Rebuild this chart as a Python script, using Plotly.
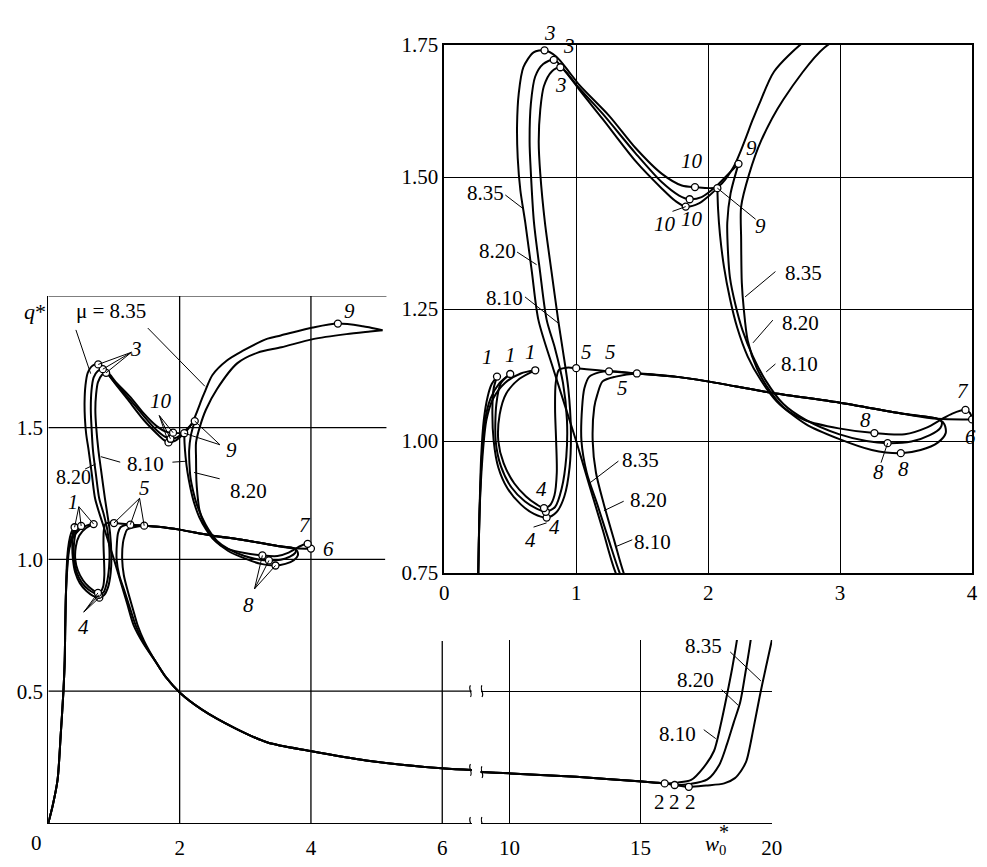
import plotly.graph_objects as go

FONT = "Liberation Serif, Times New Roman, serif"
FS = 21
INK = "black"
W, H = 987, 867

# ---------------- shared pieces of the q*(w0*) curves ----------------
rise_x = [0.0, 0.065, 0.14, 0.19, 0.23, 0.25, 0.258, 0.267]
rise_y = [0.0, 0.064, 0.162, 0.34, 0.50, 0.62, 0.75, 0.86]

shelf_x = [3.74, 3.49, 2.99, 2.49, 1.995, 1.75, 1.46]
shelf_y = [1.042, 1.051, 1.073, 1.091, 1.113, 1.122, 1.128]

tail_x = [1.64, 1.80, 2.00, 2.34, 2.84, 3.34, 3.99, 4.84, 5.99, 6.45, 8.90, 10.04, 12.55, 15.06, 15.92]
tail_y = [0.61, 0.55, 0.495, 0.43, 0.36, 0.305, 0.273, 0.237, 0.207, 0.201, 0.193, 0.188, 0.175, 0.157, 0.150]

# ---------------- mu = 8.10 ----------------
mu810_a_x = [0.28, 0.30, 0.33, 0.36, 0.40]
mu810_a_y = [0.97, 1.04, 1.085, 1.108, 1.122]
mu810_b_x = [0.40, 0.375, 0.365, 0.375, 0.41, 0.48, 0.58, 0.68, 0.776, 0.85, 0.91, 0.95, 0.96, 0.94, 0.90,
             0.863, 0.813, 0.763, 0.728, 0.716, 0.728, 0.755, 0.815, 0.88, 0.95, 1.025, 1.20, 1.45, 1.65,
             1.75, 1.83, 1.93, 2.00, 2.07]
mu810_b_y = [1.122, 1.10, 1.06, 1.0, 0.95, 0.91, 0.88, 0.862, 0.855, 0.865, 0.895, 0.95, 1.02, 1.10, 1.17,
             1.23, 1.321, 1.414, 1.506, 1.567, 1.628, 1.672, 1.700, 1.708, 1.69, 1.665, 1.61, 1.53, 1.478,
             1.455, 1.444, 1.45, 1.463, 1.479]
mu810_c_x = [2.07, 2.075, 2.09, 2.12, 2.165, 2.22, 2.30, 2.40, 2.52, 2.74, 2.99, 3.24, 3.46, 3.61, 3.74, 3.80, 3.79]
mu810_c_y = [1.479, 1.44, 1.39, 1.33, 1.27, 1.215, 1.16, 1.115, 1.075, 1.032, 1.004, 0.983, 0.977, 0.983, 0.997, 1.015, 1.032]
mu810_d_x = [1.30, 1.20, 1.16, 1.137, 1.125, 1.15, 1.21, 1.29, 1.36, 1.46]
mu810_d_y = [1.122, 1.113, 1.088, 1.064, 1.0, 0.94, 0.88, 0.81, 0.75, 0.69]
mu810_e_x = [16.4, 16.93, 17.4, 17.8, 18.05, 18.29, 18.5, 18.67, 18.8]
mu810_e_y = [0.153, 0.163, 0.21, 0.273, 0.37, 0.483, 0.59, 0.69, 0.78]

# ---------------- mu = 8.20 ----------------
mu820_a_x = [0.285, 0.31, 0.35, 0.42, 0.50]
mu820_a_y = [0.97, 1.04, 1.08, 1.11, 1.127]
mu820_b_x = [0.50, 0.43, 0.395, 0.39, 0.43, 0.51, 0.61, 0.70, 0.77, 0.84, 0.89, 0.925, 0.93, 0.90, 0.84,
             0.776, 0.726, 0.68, 0.657, 0.647, 0.657, 0.689, 0.75, 0.83, 0.92, 1.0, 1.20, 1.45, 1.65,
             1.78, 1.86, 1.95, 2.05, 2.15, 2.23]
mu820_b_y = [1.127, 1.11, 1.07, 1.0, 0.952, 0.912, 0.886, 0.872, 0.866, 0.875, 0.91, 0.97, 1.04, 1.11, 1.175,
             1.23, 1.321, 1.414, 1.506, 1.567, 1.64, 1.69, 1.714, 1.722, 1.70, 1.675, 1.62, 1.545, 1.49,
             1.465, 1.458, 1.462, 1.48, 1.505, 1.525]
mu820_c_x = [2.23, 2.17, 2.145, 2.15, 2.165, 2.205, 2.26, 2.34, 2.44, 2.57, 2.74, 2.99, 3.20, 3.36, 3.54, 3.68, 3.76, 3.77]
mu820_c_y = [1.525, 1.469, 1.414, 1.36, 1.31, 1.26, 1.21, 1.16, 1.113, 1.07, 1.04, 1.013, 1.0, 0.996, 0.999, 1.011, 1.025, 1.036]
mu820_d_x = [1.249, 1.174, 1.10, 1.062, 1.045, 1.04, 1.08, 1.16, 1.25, 1.33, 1.45]
mu820_d_y = [1.132, 1.13, 1.122, 1.10, 1.064, 1.0, 0.94, 0.88, 0.81, 0.75, 0.685]
mu820_e_x = [16.3, 16.9, 17.55, 18.0, 18.3, 18.55, 18.8, 19.0, 19.2, 19.3]
mu820_e_y = [0.144, 0.148, 0.165, 0.22, 0.30, 0.38, 0.458, 0.57, 0.694, 0.78]

# ---------------- mu = 8.35 ----------------
mu835_a_x = [0.29, 0.32, 0.37, 0.46, 0.58, 0.69]
mu835_a_y = [0.97, 1.04, 1.08, 1.11, 1.128, 1.134]
mu835_b_x = [0.69, 0.57, 0.47, 0.42, 0.41, 0.45, 0.53, 0.62, 0.70, 0.756, 0.80, 0.835, 0.853, 0.848, 0.84,
             0.845, 0.87, 0.93, 1.0, 1.249]
mu835_b_y = [1.134, 1.118, 1.09, 1.05, 1.0, 0.958, 0.92, 0.895, 0.88, 0.873, 0.878, 0.897, 0.94, 1.0, 1.06,
             1.11, 1.135, 1.139, 1.138, 1.132]
mu835_b_end_x = [4.0]
mu835_b_end_y = [1.041]
mu835_c_x = [4.0, 3.985, 3.95, 3.85, 3.76, 3.66, 3.49, 3.26, 2.99, 2.74, 2.57, 2.47, 2.37, 2.30, 2.27, 2.255,
             2.25, 2.25, 2.31, 2.40, 2.57, 2.88, 3.19, 3.55, 4.03, 4.54, 4.90, 5.09]
mu835_c_y = [1.041, 1.053, 1.059, 1.052, 1.04, 1.026, 1.013, 1.015, 1.024, 1.039, 1.064, 1.094, 1.137, 1.19, 1.25, 1.30,
             1.383, 1.444, 1.505, 1.568, 1.647, 1.745, 1.785, 1.805, 1.836, 1.855, 1.865, 1.87]
mu835_d_x = [5.09, 4.90, 4.79, 4.41, 4.03, 3.54, 3.34, 2.95, 2.72, 2.50, 2.39, 2.34, 2.19, 2.07, 1.90, 1.80,
             1.65, 1.45, 1.25, 1.025, 0.95, 0.85, 0.76, 0.677, 0.60, 0.565, 0.552, 0.557, 0.577, 0.614, 0.664,
             0.714, 0.826, 1.0, 1.10, 1.20, 1.30, 1.45]
mu835_d_y = [1.87, 1.88, 1.885, 1.895, 1.88, 1.85, 1.838, 1.79, 1.755, 1.70, 1.64, 1.61, 1.518, 1.481, 1.481, 1.484,
             1.506, 1.555, 1.616, 1.674, 1.698, 1.728, 1.74, 1.736, 1.708, 1.659, 1.598, 1.536, 1.475, 1.414, 1.321,
             1.229, 1.137, 1.0, 0.916, 0.833, 0.75, 0.68]
mu835_e_x = [16.3, 16.84, 17.5, 18.19, 18.6, 18.85, 19.04, 19.3, 19.55, 19.78, 20.0, 20.1]
mu835_e_y = [0.144, 0.137, 0.142, 0.150, 0.17, 0.20, 0.236, 0.355, 0.483, 0.59, 0.69, 0.74]

# ---------------- marked points (open circles) ----------------
pts810_tag = ["1", "4", "3", "10", "9", "8", "5", "2"]
pts810_x = [0.40, 0.776, 0.88, 1.83, 2.07, 3.46, 1.46, 15.92]
pts810_y = [1.122, 0.855, 1.708, 1.444, 1.479, 0.977, 1.128, 0.150]
pts820_tag = ["1", "4", "3", "10", "9", "8", "5", "2"]
pts820_x = [0.50, 0.77, 0.83, 1.86, 2.23, 3.36, 1.249, 16.3]
pts820_y = [1.127, 0.866, 1.722, 1.458, 1.525, 0.996, 1.132, 0.144]
pts835_tag = ["1", "4", "5", "6", "7", "8", "9", "10", "3", "2"]
pts835_x = [0.69, 0.756, 1.0, 4.0, 3.95, 3.26, 4.41, 1.90, 0.76, 16.84]
pts835_y = [1.134, 0.873, 1.138, 1.041, 1.059, 1.015, 1.895, 1.481, 1.74, 0.137]

# ---------------- axes / grid ----------------
main_xticks = [2, 4, 6]
main_yticks = [0.5, 1.0, 1.5]
right_xticks = [10, 15, 20]
inset_xticks = [0, 1, 2, 3, 4]
inset_yticks = [0.75, 1.0, 1.25, 1.5, 1.75]
inset_ytext = ["0.75", "1.00", "1.25", "1.50", "1.75"]
main_hgrid = [(0.5, 6.45), (1.0, 5.13), (1.5, 5.15), (2.0, 5.15)]   # (level, right end)
main_vgrid = [(2, 2.0), (4, 2.0), (6, 0.69)]                         # (position, top end)
main_xmax = 6.45
right_xmin = 8.9
point2_label_x = [15.72, 16.29, 16.92]

# panel frames in pixels of the 987x867 page
MAIN_X, MAIN_Y = (44, 474), (834, 292)
RIGHT_X, RIGHT_Y = (483, 779), (834, 646)
INSET_X, INSET_Y = (446, 982), (577, 34)


def xdom(px):
    return [px[0] / W, px[1] / W]


def ydom(py):
    return [1 - py[0] / H, 1 - py[1] / H]


def joined(*segments):
    xs, ys = [], []
    for k, (sx, sy) in enumerate(segments):
        if k:
            xs.append(None)
            ys.append(None)
        xs += list(sx)
        ys += list(sy)
    return xs, ys


curves = {
    "8.10": joined(
        (rise_x + mu810_a_x, rise_y + mu810_a_y),
        (mu810_b_x, mu810_b_y),
        (mu810_c_x + shelf_x + mu810_d_x + tail_x + mu810_e_x,
         mu810_c_y + shelf_y + mu810_d_y + tail_y + mu810_e_y),
    ),
    "8.20": joined(
        (rise_x + mu820_a_x, rise_y + mu820_a_y),
        (mu820_b_x, mu820_b_y),
        (mu820_c_x + shelf_x + mu820_d_x + tail_x + mu820_e_x,
         mu820_c_y + shelf_y + mu820_d_y + tail_y + mu820_e_y),
    ),
    "8.35": joined(
        (rise_x + mu835_a_x, rise_y + mu835_a_y),
        (mu835_b_x + shelf_x[::-1] + mu835_b_end_x, mu835_b_y + shelf_y[::-1] + mu835_b_end_y),
        (mu835_c_x, mu835_c_y),
        (mu835_d_x + tail_x + mu835_e_x, mu835_d_y + tail_y + mu835_e_y),
    ),
}

marks = [(pts810_tag, pts810_x, pts810_y), (pts820_tag, pts820_x, pts820_y), (pts835_tag, pts835_x, pts835_y)]
all_px = pts810_x + pts820_x + pts835_x
all_py = pts810_y + pts820_y + pts835_y


def points(tag, xmax=None):
    out = []
    for tags, xs, ys in marks:
        for t, x, y in zip(tags, xs, ys):
            if t == tag and (xmax is None or x <= xmax):
                out.append((x, y))
    return out


PANELS = [("x", "y"), ("x2", "y2"), ("x3", "y3")]

fig = go.Figure()
for xa, ya in PANELS:
    for name, (cx, cy) in curves.items():
        fig.add_trace(go.Scatter(
            x=cx, y=cy, mode="lines", xaxis=xa, yaxis=ya, name=name,
            line=dict(color=INK, width=2.0, shape="spline", smoothing=0.8),
            connectgaps=False, hoverinfo="skip"))
    fig.add_trace(go.Scatter(
        x=all_px, y=all_py, mode="markers", xaxis=xa, yaxis=ya,
        marker=dict(symbol="circle", size=7, color="white", line=dict(color=INK, width=1.3)),
        hoverinfo="skip"))

shapes = []
annotations = []


def line(x0, y0, x1, y1, xa="x", ya="y", width=1.0, layer="above"):
    shapes.append(dict(type="line", x0=x0, y0=y0, x1=x1, y1=y1, xref=xa, yref=ya,
                       line=dict(color=INK, width=width), layer=layer))


def text(s, x, y, xa="x", ya="y", size=FS, **kw):
    annotations.append(dict(text=s, x=x, y=y, xref=xa, yref=ya, showarrow=False,
                            xanchor="center", yanchor="middle",
                            font=dict(family=FONT, size=size, color=INK), **kw))


def fan(tag, ax, ay, xa="x", ya="y", xmax=None):
    for px, py in points(tag, xmax):
        line(ax, ay, px, py, xa, ya, width=1.0)


# partial grid of the main panel
for lev, xend in main_hgrid:
    line(0, lev, xend, lev, width=1.3, layer="below")
for pos, ytop in main_vgrid:
    line(pos, 0, pos, ytop, width=1.3, layer="below")


# axis-break squiggles
def squiggle(x, y, w, h, xa, ya):
    shapes.append(dict(type="path", xref=xa, yref=ya,
                       path=f"M {x},{y - h} C {x + w},{y - h / 3} {x - w},{y + h / 3} {x},{y + h}",
                       line=dict(color=INK, width=1.2)))


left_tail = tail_y[tail_x.index(main_xmax)]
right_tail = tail_y[tail_x.index(right_xmin)]
for lev in (0.0, left_tail, 0.5):
    squiggle(main_xmax - 0.02, lev, 0.045, 0.022, "x", "y")
for lev in (0.0, right_tail, 0.5):
    squiggle(right_xmin + 0.05, lev, 0.11, 0.022, "x2", "y2")

# ---- main panel labels ----
text("<i>q</i>*", 30 / W, 1.94, "paper", "y", size=22)
text("0", 0, 0, yshift=-20, xshift=-12)
text("\u03bc = 8.35", 0.96, 1.941)
line(0.42, 1.871, 0.645, 1.705)
line(1.515, 1.878, 2.385, 1.657)
text("<i>3</i>", 1.335, 1.797)
fan("3", 1.265, 1.786)
text("<i>10</i>", 1.71, 1.60)
fan("10", 1.69, 1.546, xmax=3)
text("<i>9</i>", 2.79, 1.417)
fan("9", 2.615, 1.435, xmax=3)
text("<i>9</i>", 4.59, 1.941)
text("8.10", 1.485, 1.362)
line(1.095, 1.369, 0.80, 1.39)
line(1.89, 1.369, 2.115, 1.373)
text("8.20", 0.39, 1.312, size=20)
line(0.56, 1.343, 0.72, 1.362)
text("8.20", 3.045, 1.258)
line(2.61, 1.306, 2.22, 1.33)
text("<i>1</i>", 0.37, 1.218, size=20)
fan("1", 0.465, 1.20)
text("<i>5</i>", 1.47, 1.27)
fan("5", 1.39, 1.232)
text("<i>7</i>", 3.915, 1.129)
text("<i>6</i>", 4.26, 1.04)
text("<i>4</i>", 0.54, 0.742)
fan("4", 0.54, 0.80)
text("<i>8</i>", 3.045, 0.827)
fan("8", 3.14, 0.888)

# ---- right (10..20) panel labels ----
text("8.35", 17.41, 0.672, "x2", "y2")
line(18.42, 0.649, 19.59, 0.539, "x2", "y2")
text("8.20", 17.11, 0.542, "x2", "y2")
line(18.09, 0.506, 18.72, 0.447, "x2", "y2")
text("8.10", 16.4, 0.339, "x2", "y2")
line(17.41, 0.354, 17.87, 0.32, "x2", "y2")
for lx in point2_label_x:
    text("2", lx, 0.078, "x2", "y2")
text("<i>w</i><sub>0</sub>", 17.86, 0.0115, "x2", "paper")
text("*", 18.2, 0.027, "x2", "paper", size=20)

# ---- inset labels ----
I = ("x3", "y3")
text("<i>3</i>", 0.80, 1 - 22 / H, "x3", "paper")
for s, x, y in [("<i>3</i>", 0.948, 1.748), ("<i>3</i>", 0.888, 1.674),
                ("<i>10</i>", 1.88, 1.531), ("<i>10</i>", 1.67, 1.411), ("<i>10</i>", 1.88, 1.42),
                ("<i>9</i>", 2.33, 1.555), ("<i>9</i>", 2.40, 1.407),
                ("8.35", 0.313, 1.470), ("8.20", 0.40, 1.36), ("8.10", 0.455, 1.271),
                ("8.35", 2.72, 1.319), ("8.20", 2.70, 1.223), ("8.10", 2.69, 1.146),
                ("<i>1</i>", 0.33, 1.159), ("<i>1</i>", 0.50, 1.163), ("<i>1</i>", 0.65, 1.168),
                ("<i>5</i>", 1.075, 1.168), ("<i>5</i>", 1.26, 1.168), ("<i>5</i>", 1.35, 1.10),
                ("<i>4</i>", 0.74, 0.91), ("<i>4</i>", 0.65, 0.813), ("<i>4</i>", 0.836, 0.837),
                ("8.35", 1.485, 0.965), ("8.20", 1.545, 0.888), ("8.10", 1.58, 0.809),
                ("<i>7</i>", 3.93, 1.094), ("<i>6</i>", 3.99, 1.008),
                ("<i>8</i>", 3.19, 1.039), ("<i>8</i>", 3.29, 0.942), ("<i>8</i>", 3.48, 0.947)]:
    text(s, x, y, *I)

for x0, y0, x1, y1 in [(0.463, 1.466, 0.604, 1.439), (0.552, 1.358, 0.70, 1.334), (0.612, 1.273, 0.866, 1.223),
                       (2.51, 1.321, 2.28, 1.273), (2.49, 1.229, 2.34, 1.186), (2.51, 1.146, 2.44, 1.131),
                       (1.32, 0.962, 1.10, 0.92), (1.36, 0.886, 1.21, 0.868), (1.425, 0.813, 1.30, 0.80)]:
    line(x0, y0, x1, y1, *I)
p9 = points("9", xmax=2.1)[0]
line(2.36, 1.42, p9[0], p9[1], *I)
p10 = min(points("10"), key=lambda p: p[1])
line(1.73, 1.435, p10[0], p10[1], *I)
p4 = points("4")[0]
line(0.677, 0.837, p4[0], p4[1] - 0.01, *I)
p8 = sorted(points("8"))[1]
line(3.31, 0.959, p8[0], p8[1], *I)

axis_common = dict(color=INK, zeroline=False, ticks="", tickfont=dict(family=FONT, size=FS, color=INK),
                   linecolor=INK)

fig.update_layout(
    width=W, height=H, margin=dict(l=0, r=0, t=0, b=0),
    paper_bgcolor="white", plot_bgcolor="rgba(0,0,0,0)", showlegend=False,
    font=dict(family=FONT, size=FS, color=INK),
    xaxis=dict(domain=xdom(MAIN_X), range=[0, main_xmax], anchor="y", showline=True, linewidth=1.4,
               showgrid=False, tickvals=main_xticks, ticklabelstandoff=6, **axis_common),
    yaxis=dict(domain=ydom(MAIN_Y), range=[0, 2.0], anchor="x", showline=True, linewidth=1.4,
               showgrid=False, tickvals=main_yticks, ticktext=["0.5", "1.0", "1.5"], **axis_common),
    xaxis2=dict(domain=xdom(RIGHT_X), range=[right_xmin, 20.02], anchor="y2", showline=True, linewidth=1.4,
                showgrid=True, gridcolor=INK, gridwidth=1.3, tickvals=right_xticks, ticklabelstandoff=6,
                **axis_common),
    yaxis2=dict(domain=ydom(RIGHT_Y), range=[0, 0.694], anchor="x2", showline=False,
                showgrid=True, gridcolor=INK, gridwidth=1.3, tickvals=[0.5], showticklabels=False, **axis_common),
    xaxis3=dict(domain=xdom(INSET_X), range=[0, 4], anchor="y3", showline=True, linewidth=1.5, mirror=True,
                showgrid=True, gridcolor=INK, gridwidth=1.3, tickvals=inset_xticks, **axis_common),
    yaxis3=dict(domain=ydom(INSET_Y), range=[0.75, 1.75], anchor="x3", showline=True, linewidth=1.5,
                mirror=True, showgrid=True, gridcolor=INK, gridwidth=1.3, tickvals=inset_yticks,
                ticktext=inset_ytext, **axis_common),
    shapes=shapes,
    annotations=annotations,
)

fig.write_html("out.html")
